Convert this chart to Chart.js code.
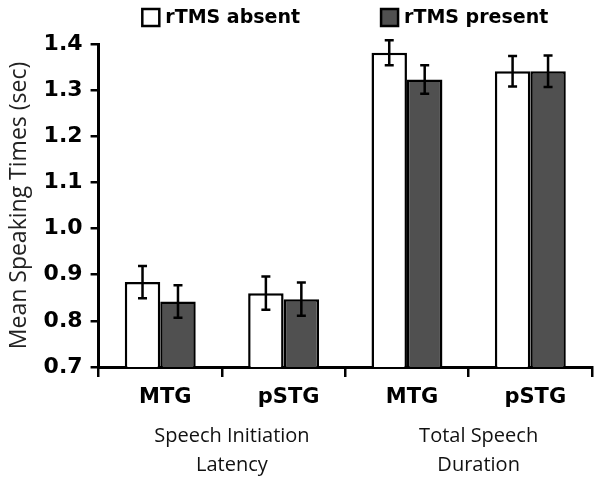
<!DOCTYPE html>
<html lang="en">
<head>
    <meta charset="UTF-8">
    <title>Mean Speaking Times</title>
    <script src="https://cdn.jsdelivr.net/npm/chart.js"></script>
    <style>
        html, body { margin: 0; padding: 0; background: #fff; }
    </style>
</head>
<body>
    <canvas id="speakChart" width="600" height="480"></canvas>

    <script>
        const regions = ['MTG', 'pSTG', 'MTG', 'pSTG'];
        const groups = [['Speech Initiation', 'Latency'], ['Total Speech', 'Duration']];
        const seriesNames = ['rTMS absent', 'rTMS present'];
        const absentMeans = [0.884, 0.860, 1.381, 1.341];
        const absentErr = [0.035, 0.036, 0.027, 0.033];
        const presentMeans = [0.842, 0.847, 1.323, 1.341];
        const presentErr = [0.035, 0.036, 0.031, 0.034];
        const yTicks = [0.7, 0.8, 0.9, 1.0, 1.1, 1.2, 1.3, 1.4];

        const boldFont = 'DejaVu Sans';
        const plainFont = "'Open Sans', sans-serif";

        // error bars drawn from the y scale
        const errorBars = {
            id: 'errorBars',
            afterDatasetsDraw(chart) {
                const ctx = chart.ctx;
                const y = chart.scales.y;
                ctx.save();
                ctx.strokeStyle = '#000';
                ctx.lineWidth = 2.5;
                chart.data.datasets.forEach((ds, i) => {
                    const meta = chart.getDatasetMeta(i);
                    meta.data.forEach((bar, j) => {
                        const top = y.getPixelForValue(ds.data[j] + ds.errors[j]);
                        const bot = y.getPixelForValue(ds.data[j] - ds.errors[j]);
                        ctx.beginPath();
                        ctx.moveTo(bar.x, top);
                        ctx.lineTo(bar.x, bot);
                        ctx.moveTo(bar.x - 4.5, top);
                        ctx.lineTo(bar.x + 4.5, top);
                        ctx.moveTo(bar.x - 4.5, bot);
                        ctx.lineTo(bar.x + 4.5, bot);
                        ctx.stroke();
                    });
                });
                ctx.restore();
            }
        };

        // legend centred above the plot area
        const topLegend = {
            id: 'topLegend',
            afterDraw(chart) {
                const ctx = chart.ctx;
                const area = chart.chartArea;
                ctx.save();
                ctx.font = 'bold 19px ' + boldFont;
                ctx.textBaseline = 'middle';
                const box = 17, gap = 6, itemGap = 81;
                const widths = seriesNames.map(n => ctx.measureText(n).width);
                const total = widths.reduce((a, w) => a + box + gap + w, 0) + itemGap;
                let x = (area.left + area.right) / 2 - total / 2;
                const cy = 17.5;
                chart.data.datasets.forEach((ds, i) => {
                    ctx.fillStyle = ds.backgroundColor;
                    ctx.fillRect(x, cy - box / 2, box, box);
                    ctx.strokeStyle = '#000';
                    ctx.lineWidth = 2.5;
                    ctx.strokeRect(x, cy - box / 2, box, box);
                    ctx.fillStyle = '#000';
                    ctx.fillText(seriesNames[i], x + box + gap, cy + 1);
                    x += box + gap + widths[i] + itemGap;
                });
                ctx.restore();
            }
        };

        new Chart(document.getElementById('speakChart'), {
            type: 'bar',
            data: {
                labels: regions,
                datasets: [
                    {
                        label: seriesNames[0],
                        data: absentMeans,
                        errors: absentErr,
                        backgroundColor: '#ffffff',
                        borderColor: '#000',
                        borderWidth: 2.5,
                        barPercentage: 1,
                        categoryPercentage: 0.575
                    },
                    {
                        label: seriesNames[1],
                        data: presentMeans,
                        errors: presentErr,
                        backgroundColor: '#505050',
                        borderColor: '#000',
                        borderWidth: 2.5,
                        barPercentage: 1,
                        categoryPercentage: 0.575
                    }
                ]
            },
            options: {
                responsive: false,
                animation: false,
                layout: { padding: { top: 44, left: 6, right: 8, bottom: 4 } },
                plugins: {
                    legend: { display: false },
                    tooltip: { enabled: false }
                },
                scales: {
                    x: {
                        position: 'bottom',
                        grid: {
                            offset: true,
                            drawOnChartArea: false,
                            tickLength: 10,
                            color: '#000',
                            lineWidth: 2.5
                        },
                        border: { color: '#000', width: 3 },
                        ticks: {
                            color: '#000',
                            font: { family: boldFont, size: 21, weight: 'bold', lineHeight: 1.0 },
                            padding: 10,
                            labelOffset: 5,
                            maxRotation: 0
                        }
                    },
                    x2: {
                        type: 'category',
                        position: 'bottom',
                        labels: groups,
                        offset: true,
                        grid: { display: false },
                        border: { display: false },
                        ticks: {
                            color: '#111',
                            font: { family: plainFont, size: 20, lineHeight: 1.45 },
                            padding: -4,
                            labelOffset: 10,
                            maxRotation: 0,
                            autoSkip: false
                        }
                    },
                    y: {
                        min: yTicks[0],
                        max: yTicks[yTicks.length - 1],
                        afterBuildTicks: axis => { axis.ticks = yTicks.map(v => ({ value: v })); },
                        grid: {
                            drawOnChartArea: false,
                            tickLength: 8,
                            color: '#000',
                            lineWidth: 2.5
                        },
                        border: { color: '#000', width: 3 },
                        ticks: {
                            color: '#000',
                            padding: 8,
                            font: { family: boldFont, size: 22, weight: 'bold' },
                            callback: v => v.toFixed(1)
                        },
                        title: {
                            display: true,
                            text: 'Mean Speaking Times (sec)',
                            color: '#222',
                            font: { family: plainFont, size: 23 },
                            padding: { top: 0, bottom: 2 }
                        }
                    }
                }
            },
            plugins: [errorBars, topLegend]
        });
    </script>
</body>
</html>
